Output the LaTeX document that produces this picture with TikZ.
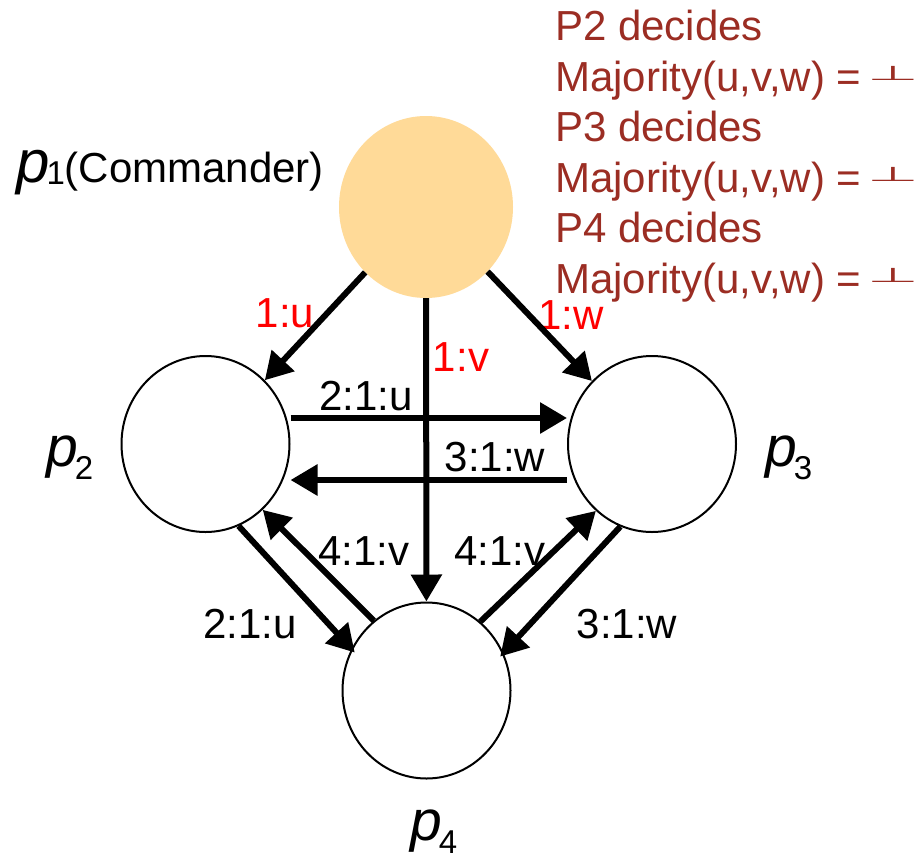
\documentclass[tikz,border=0pt]{standalone}
\usepackage{fontspec}
\setmainfont{Liberation Sans}
\newfontfamily\symfont{DejaVu Sans}
\usetikzlibrary{arrows.meta,shapes.geometric,calc}

\definecolor{peach}{RGB}{255,218,152}
\definecolor{decred}{RGB}{155,45,35}
\definecolor{lblred}{RGB}{255,0,0}

\newcommand\myperp{\raisebox{10.5pt}{\scalebox{1.4}[0.48]{\symfont ⊥}}}
\newcommand\pname[1]{{\fontsize{57}{57}\selectfont\itshape p}\kern-3pt{\fontsize{33}{33}\selectfont\raisebox{-13pt}{#1}}}

\begin{document}
\begin{tikzpicture}[x=1pt,y=-1pt,
  proc/.style={ellipse, draw, line width=2pt, minimum width=168pt, minimum height=176pt, inner sep=0pt},
  cmd/.style={ellipse, fill=peach, minimum width=174pt, minimum height=182pt, inner sep=0pt},
  arr/.style={line width=6pt, -{Triangle[length=27pt,width=30pt]}},
  lbl/.style={font=\fontsize{42}{42}\selectfont, inner sep=0pt},
  rlbl/.style={lbl, text=lblred},
  dec/.style={font=\fontsize{42}{42}\selectfont, text=decred, inner sep=0pt, anchor=base west},
  pl/.style={inner sep=0pt, anchor=base west}
]
\useasboundingbox (0,0) rectangle (918,860);

% processes
\node[cmd] (p1) at (426,207) {};
\node[proc] (p2) at (205.5,444) {};
\node[proc] (p3) at (652,444) {};
\node[proc] (p4) at (426.5,690.5) {};

% process names
\node[pl] (n1) at (16,182) {{\fontsize{60}{60}\selectfont\itshape p}\kern-3pt{\fontsize{33}{33}\selectfont\raisebox{-2pt}{1}}{\fontsize{42}{42}\selectfont (Commander)}};
\node[pl] (n2) at (46,466) {\pname{2}};
\node[pl] (n3) at (765,466) {\pname{3}};
\node[pl] (n4) at (410,840) {\pname{4}};

% decisions
\node[dec] (d1) at (555,40) {P2 decides};
\node[dec] (d2) at (555,91) {Majority(u,v,w) =\kern6pt\myperp};
\node[dec] (d3) at (555,141) {P3 decides};
\node[dec] (d4) at (555,192) {Majority(u,v,w) =\kern6pt\myperp};
\node[dec] (d5) at (555,242) {P4 decides};
\node[dec] (d6) at (555,293) {Majority(u,v,w) =\kern6pt\myperp};

% edge labels
\node[rlbl] (l1u) at (285,313) {1:u};
\node[rlbl] (l1w) at (571,315) {1:w};
\node[rlbl] (l1v) at (461,357) {1:v};
\node[lbl] (l21u) at (366,396) {2:1:u};
\node[lbl] (l31w) at (495,457) {3:1:w};
\node[lbl] (l41va) at (364,551) {4:1:v};
\node[lbl] (l41vb) at (500,551) {4:1:v};
\node[lbl] (l21ub) at (250,624) {2:1:u};
\node[lbl] (l31wb) at (627,624) {3:1:w};

% messages
\draw[arr] (p1) -- (p2);
\draw[arr] (p1) -- (p3);
\draw[arr] (p1) -- (p4);
\draw[arr] ($(p2.east)+(0,-26)$) -- ($(p3.west)+(0,-26)$);
\draw[arr] ($(p3.west)+(0,36)$) -- ($(p2.east)+(0,36)$);
\draw[arr, shorten >=-5pt] (p2.-68) -- (p4.151);
\draw[arr] (p4.127) -- (p2.-49);
\draw[arr] (p4.52) -- (p3.-130.5);
\draw[arr, shorten >=-5pt] (p3.-111) -- (p4.26);
\end{tikzpicture}
\end{document}
